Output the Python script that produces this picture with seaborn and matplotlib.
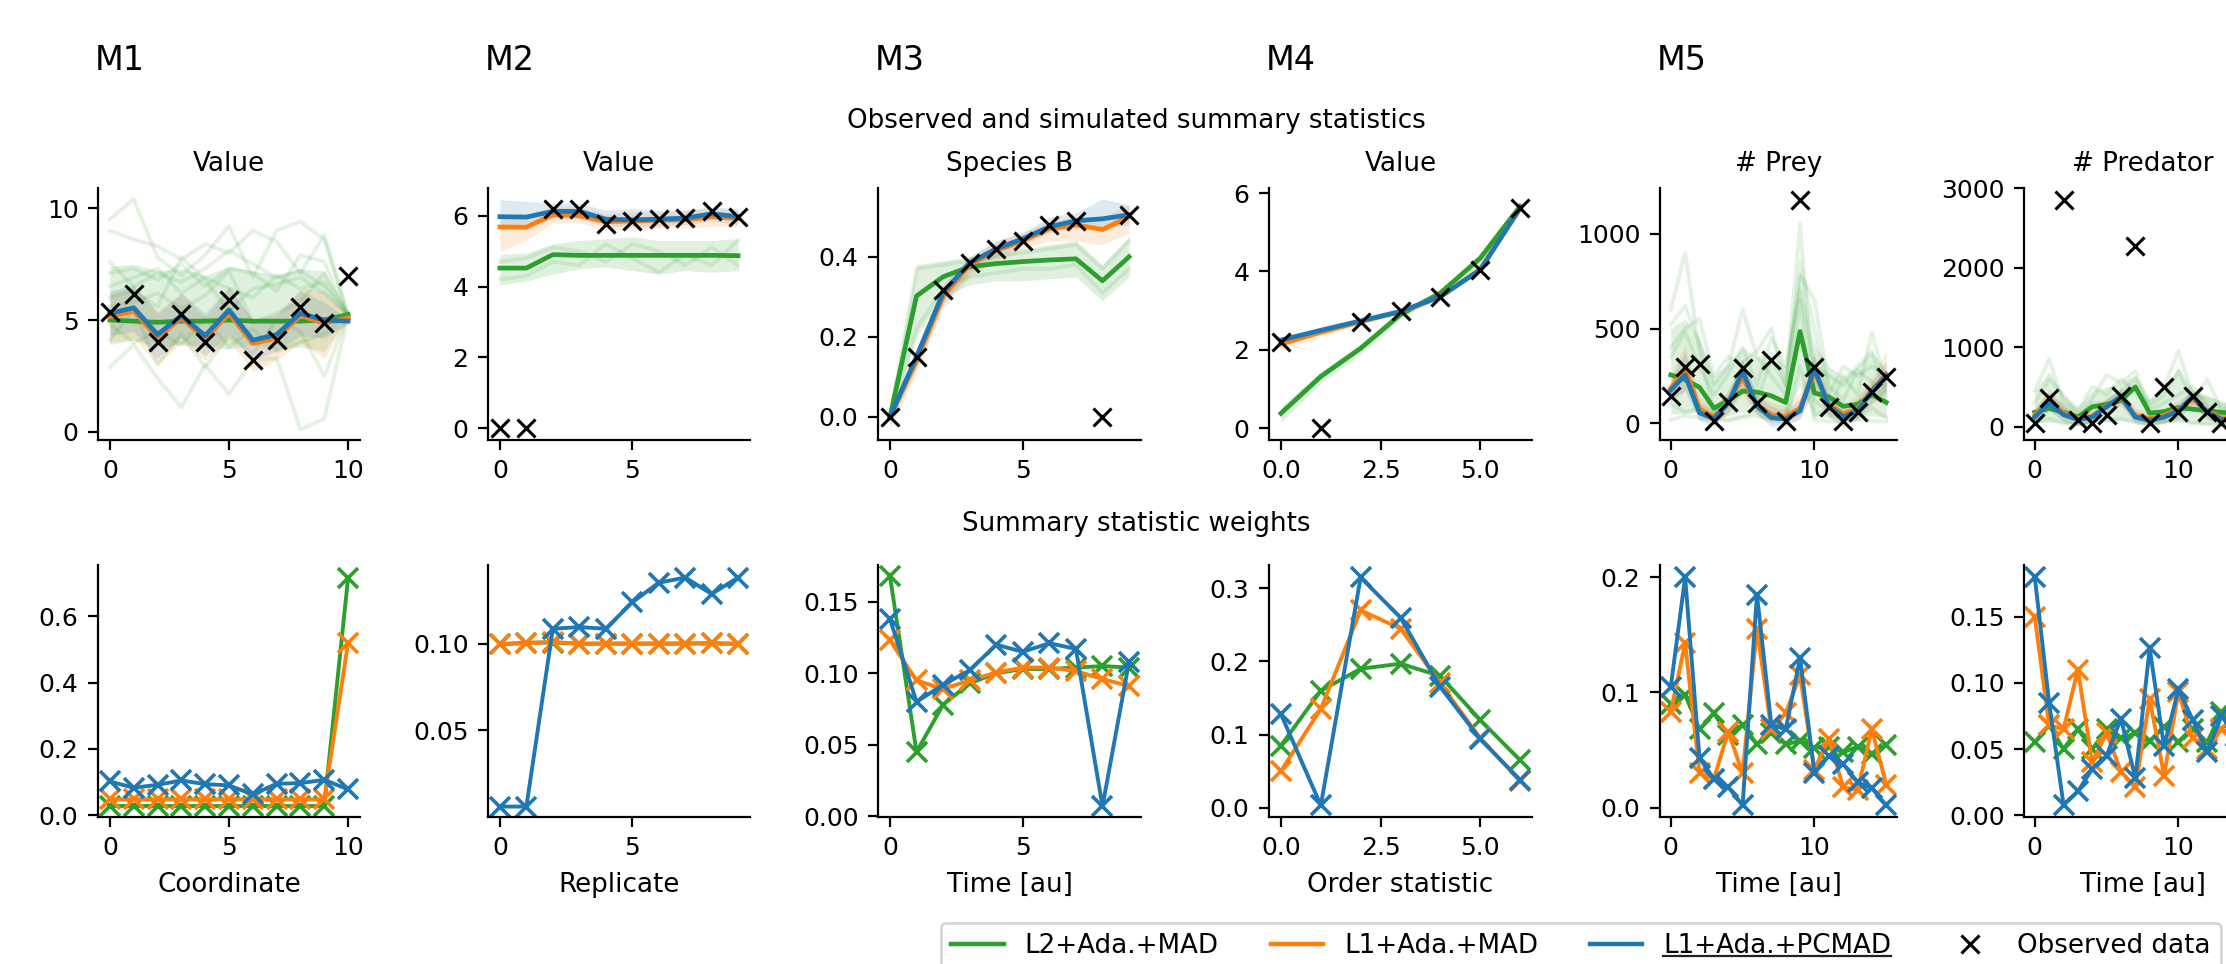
import numpy as np
import pandas as pd
import matplotlib
matplotlib.use("Agg")
import matplotlib.pyplot as plt
import seaborn as sns
from matplotlib.lines import Line2D

# ---------------- data ----------------
METHODS = ["L2+Ada.+MAD", "L1+Ada.+MAD", "L1+Ada.+PCMAD"]
COLORS = ["#2ca02c", "#ff7f0e", "#1f77b4"]
OBS_LABEL = "Observed data"
MODEL_LABELS = ["M1", "M2", "M3", "M4", "M5"]
TOP_TITLES = ["Value", "Value", "Species B", "Value", "# Prey", "# Predator"]
BOTTOM_XLABELS = ["Coordinate", "Replicate", "Time [au]", "Order statistic", "Time [au]", "Time [au]"]
TITLE_SIM = "Observed and simulated summary statistics"
TITLE_W = "Summary statistic weights"

# Panel 1 (M1)
obs_1 = [5.37, 6.15, 4.0, 5.27, 4.0, 5.9, 3.2, 4.1, 5.6, 4.88, 6.98]
l2_1 = [5.0, 4.95, 4.9, 4.95, 4.95, 5.0, 4.95, 4.95, 4.95, 5.0, 5.25]
l1_1 = [5.15, 5.4, 4.2, 5.1, 4.15, 5.3, 3.95, 4.2, 5.2, 4.85, 5.1]
pc_1 = [5.3, 5.55, 4.35, 5.2, 4.3, 5.45, 4.1, 4.35, 5.3, 5.0, 4.95]
l2_lo_1 = [3.9, 4.1, 3.8, 3.9, 3.8, 3.7, 3.9, 3.7, 3.8, 3.6, 5.1]
l2_hi_1 = [7.4, 7.5, 7.2, 7.3, 7.0, 7.4, 7.2, 7.0, 7.3, 7.2, 5.35]
l1_lo_1 = [4.0, 4.2, 3.0, 4.0, 3.2, 4.1, 2.7, 3.2, 4.0, 3.3, 5.0]
l1_hi_1 = [6.2, 6.5, 5.4, 6.2, 5.1, 6.5, 5.0, 5.3, 6.4, 6.3, 5.2]
pc_lo_1 = [4.3, 4.5, 3.3, 4.2, 3.4, 4.4, 3.2, 3.6, 4.3, 4.2, 4.85]
pc_hi_1 = [6.3, 6.6, 5.3, 6.2, 5.3, 6.5, 5.0, 5.2, 6.3, 5.8, 5.05]
l2_runs_1 = [
    [9.5, 10.4, 7.8, 7.0, 7.9, 9.2, 6.9, 9.0, 9.4, 8.6, 5.2],
    [9.0, 8.6, 8.3, 7.7, 8.4, 8.0, 9.0, 8.5, 7.1, 8.8, 5.2],
    [2.9, 3.9, 2.4, 1.1, 3.0, 1.7, 3.2, 3.3, 0.1, 0.6, 5.2],
    [7.1, 7.3, 6.8, 7.5, 6.5, 7.3, 7.1, 6.3, 7.9, 7.6, 5.2],
    [6.5, 6.9, 7.3, 6.2, 6.9, 6.4, 6.0, 7.0, 6.4, 6.7, 5.2],
    [4.1, 5.5, 3.0, 4.4, 2.9, 4.3, 3.5, 5.0, 4.5, 2.5, 5.2],
    [6.0, 6.3, 5.6, 7.8, 6.8, 5.4, 6.4, 6.6, 6.9, 6.2, 5.2],
    [5.6, 5.8, 6.2, 5.5, 6.1, 7.2, 4.9, 5.3, 5.8, 7.1, 5.2],
    [4.8, 4.0, 4.5, 3.9, 5.1, 3.8, 4.6, 3.6, 4.0, 4.4, 5.2],
    [7.6, 6.5, 7.1, 6.7, 7.3, 8.1, 7.5, 6.9, 7.2, 6.5, 5.2],
]
w_l2_1 = [0.028] * 10 + [0.715]
w_l1_1 = [0.048] * 10 + [0.52]
w_pc_1 = [0.102, 0.083, 0.092, 0.105, 0.094, 0.09, 0.063, 0.095, 0.097, 0.107, 0.078]

# Panel 2 (M2)
obs_2 = [0.0, 0.0, 6.2, 6.2, 5.77, 5.84, 5.9, 5.93, 6.12, 5.96]
l2_2 = [4.52, 4.52, 4.9, 4.88, 4.88, 4.88, 4.88, 4.88, 4.88, 4.87]
l1_2 = [5.68, 5.67, 6.03, 6.0, 5.83, 5.85, 5.87, 5.88, 5.97, 5.92]
pc_2 = [5.97, 5.96, 6.12, 6.12, 5.9, 5.88, 5.9, 5.93, 6.05, 5.97]
l2_lo_2 = [4.05, 4.15, 4.35, 4.5, 4.55, 4.45, 4.35, 4.45, 4.4, 4.45]
l2_hi_2 = [4.9, 4.95, 5.2, 5.3, 5.35, 5.4, 5.3, 5.3, 5.3, 5.35]
l1_lo_2 = [5.0, 5.3, 5.8, 5.8, 5.6, 5.6, 5.65, 5.65, 5.7, 5.7]
l1_hi_2 = [6.0, 6.0, 6.25, 6.25, 6.05, 6.1, 6.1, 6.15, 6.2, 6.15]
pc_lo_2 = [5.7, 5.7, 5.9, 5.9, 5.7, 5.7, 5.7, 5.75, 5.85, 5.75]
pc_hi_2 = [6.45, 6.4, 6.35, 6.35, 6.15, 6.2, 6.15, 6.15, 6.25, 6.2]
l2_runs_2 = [
    [4.2, 4.3, 4.7, 4.6, 5.2, 4.8, 4.4, 4.9, 4.6, 5.3],
    [4.7, 4.8, 5.1, 5.0, 4.7, 5.2, 5.0, 4.6, 5.1, 4.6],
]
w_l2_2 = [0.0995, 0.1005, 0.1005, 0.1, 0.1, 0.1, 0.1, 0.1, 0.1002, 0.0998]
w_l1_2 = [0.0998, 0.1003, 0.101, 0.0998, 0.0999, 0.0999, 0.0999, 0.1, 0.1001, 0.0999]
w_pc_2 = [0.0062, 0.0062, 0.1085, 0.1095, 0.1085, 0.1237, 0.135, 0.138, 0.1285, 0.138]

# Panel 3 (M3)
obs_3 = [0.0, 0.15, 0.316, 0.384, 0.419, 0.44, 0.48, 0.489, 0.0, 0.505]
l2_3 = [0.0, 0.302, 0.35, 0.375, 0.383, 0.388, 0.392, 0.395, 0.34, 0.40]
l1_3 = [0.0, 0.14, 0.30, 0.38, 0.415, 0.44, 0.47, 0.48, 0.468, 0.50]
pc_3 = [0.0, 0.15, 0.31, 0.385, 0.42, 0.445, 0.475, 0.49, 0.495, 0.505]
l2_lo_3 = [-0.01, 0.2, 0.3, 0.33, 0.34, 0.34, 0.345, 0.35, 0.29, 0.35]
l2_hi_3 = [0.02, 0.38, 0.39, 0.40, 0.41, 0.42, 0.43, 0.44, 0.38, 0.45]
l1_lo_3 = [-0.03, 0.11, 0.27, 0.35, 0.39, 0.42, 0.44, 0.44, 0.43, 0.46]
l1_hi_3 = [0.02, 0.17, 0.33, 0.40, 0.44, 0.46, 0.49, 0.50, 0.50, 0.53]
pc_lo_3 = [-0.02, 0.12, 0.28, 0.36, 0.40, 0.43, 0.46, 0.47, 0.47, 0.48]
pc_hi_3 = [0.02, 0.17, 0.33, 0.40, 0.44, 0.46, 0.50, 0.51, 0.545, 0.53]
l2_runs_3 = [
    [0.0, 0.37, 0.38, 0.39, 0.40, 0.41, 0.42, 0.43, 0.37, 0.44],
    [0.0, 0.22, 0.32, 0.35, 0.36, 0.37, 0.37, 0.38, 0.31, 0.37],
]
w_l2_3 = [0.168, 0.045, 0.078, 0.093, 0.1, 0.103, 0.103, 0.104, 0.105, 0.104]
w_l1_3 = [0.123, 0.095, 0.089, 0.095, 0.1005, 0.104, 0.104, 0.1015, 0.096, 0.091]
w_pc_3 = [0.138, 0.080, 0.092, 0.102, 0.120, 0.115, 0.121, 0.117, 0.007, 0.108]

# Panel 4 (M4)
obs_4 = [2.2, 0.0, 2.71, 2.98, 3.36, 4.04, 5.62]
l2_4 = [0.38, 1.32, 2.04, 2.9, 3.45, 4.34, 5.66]
l1_4 = [2.15, 2.45, 2.72, 2.97, 3.35, 4.06, 5.6]
pc_4 = [2.25, 2.5, 2.74, 2.98, 3.36, 4.04, 5.62]
l2_lo_4 = [0.15, 1.15, 1.9, 2.8, 3.35, 4.2, 5.5]
l2_hi_4 = [0.55, 1.45, 2.15, 3.0, 3.55, 4.45, 5.8]
l1_lo_4 = [2.0, 2.35, 2.65, 2.93, 3.32, 4.02, 5.55]
l1_hi_4 = [2.3, 2.55, 2.78, 3.02, 3.4, 4.1, 5.66]
pc_lo_4 = [2.2, 2.45, 2.7, 2.95, 3.33, 4.0, 5.58]
pc_hi_4 = [2.3, 2.55, 2.78, 3.01, 3.39, 4.08, 5.66]
l2_runs_4 = []
w_l2_4 = [0.085, 0.16, 0.19, 0.197, 0.18, 0.12, 0.065]
w_l1_4 = [0.05, 0.135, 0.27, 0.245, 0.17, 0.095, 0.037]
w_pc_4 = [0.128, 0.003, 0.315, 0.26, 0.165, 0.094, 0.038]

# Panel 5 (M5, prey)
obs_5 = [146, 296, 312, 14, 111, 294, 106, 335, 14, 1180, 296, 88, 14, 62, 167, 243]
l2_5 = [255, 230, 190, 80, 120, 170, 165, 145, 110, 484, 160, 140, 90, 100, 150, 110]
l1_5 = [185, 290, 75, 35, 110, 240, 100, 45, 35, 80, 270, 100, 50, 75, 175, 260]
pc_5 = [175, 255, 55, 25, 105, 275, 90, 30, 22, 65, 290, 90, 35, 65, 170, 250]
l2_lo_5 = [50, 50, 60, 20, 40, 60, 60, 40, 30, 200, 40, 30, 20, 30, 40, 30]
l2_hi_5 = [500, 550, 450, 250, 320, 400, 350, 380, 300, 800, 420, 300, 250, 300, 380, 280]
l1_lo_5 = [110, 180, 20, 0, 50, 150, 40, 0, 0, 30, 170, 40, 0, 30, 100, 160]
l1_hi_5 = [250, 420, 140, 90, 170, 330, 160, 110, 90, 160, 380, 160, 100, 150, 240, 380]
pc_lo_5 = [120, 170, 10, -10, 60, 180, 50, -20, -10, 20, 200, 30, -20, 20, 110, 170]
pc_hi_5 = [230, 380, 110, 70, 150, 340, 150, 90, 70, 130, 360, 140, 80, 130, 220, 330]
l2_runs_5 = [
    [600, 900, 380, 60, 150, 300, 120, 340, 200, 1050, 120, 60, 250, 150, 480, 200],
    [400, 500, 550, 250, 350, 320, 380, 500, 200, 780, 650, 200, 120, 280, 220, 120],
    [100, 60, 80, 30, 20, 40, 60, 20, 40, 650, 40, 80, 30, 20, 80, 30],
    [350, 480, 300, 150, 260, 400, 200, 450, 300, 700, 300, 250, 200, 300, 380, 150],
    [20, 40, 30, 20, 10, 30, 40, 20, 10, 300, 20, 10, 10, 20, 10, 10],
    [520, 620, 420, 200, 300, 600, 350, 250, 150, 850, 500, 150, 300, 250, 300, 250],
]
w_l2_5 = [0.09, 0.098, 0.068, 0.082, 0.063, 0.072, 0.055, 0.065, 0.055, 0.058, 0.052, 0.053, 0.048, 0.053, 0.047, 0.054]
w_l1_5 = [0.083, 0.143, 0.03, 0.025, 0.066, 0.03, 0.155, 0.068, 0.082, 0.115, 0.033, 0.06, 0.018, 0.015, 0.068, 0.02]
w_pc_5 = [0.105, 0.2, 0.043, 0.025, 0.018, 0.002, 0.185, 0.072, 0.068, 0.13, 0.03, 0.045, 0.038, 0.022, 0.017, 0.002]

# Panel 6 (M5, predator)
obs_6 = [50, 357, 2857, 84, 42, 147, 391, 2269, 42, 504, 189, 391, 189, 50, 100, 150]
l2_6 = [180, 230, 180, 120, 250, 280, 330, 500, 170, 190, 240, 220, 200, 180, 170, 160]
l1_6 = [140, 350, 170, 100, 130, 260, 360, 140, 100, 140, 220, 350, 200, 110, 120, 160]
pc_6 = [120, 300, 150, 90, 120, 250, 380, 120, 80, 120, 200, 380, 180, 90, 100, 150]
l2_lo_6 = [40, 60, 40, 20, 50, 60, 80, 60, 30, 50, 60, 40, 30, 20, 30, 30]
l2_hi_6 = [450, 700, 400, 250, 450, 500, 550, 650, 350, 450, 750, 450, 400, 300, 300, 250]
l1_lo_6 = [50, 230, 70, 30, 50, 160, 260, 50, 20, 50, 120, 250, 100, 30, 40, 70]
l1_hi_6 = [230, 480, 280, 180, 220, 370, 460, 230, 180, 230, 330, 460, 300, 190, 200, 250]
pc_lo_6 = [40, 200, 60, 20, 40, 150, 280, 40, 10, 40, 100, 280, 90, 20, 30, 60]
pc_hi_6 = [200, 420, 250, 160, 200, 350, 480, 200, 150, 200, 300, 480, 280, 160, 170, 240]
l2_runs_6 = [
    [450, 850, 300, 200, 500, 400, 600, 450, 300, 500, 950, 400, 350, 300, 250, 200],
    [300, 600, 400, 150, 350, 650, 550, 700, 250, 400, 700, 300, 600, 200, 300, 250],
    [50, 100, 40, 20, 60, 80, 100, 50, 30, 60, 100, 40, 30, 20, 40, 30],
    [200, 400, 250, 100, 300, 300, 450, 600, 200, 300, 400, 500, 300, 250, 200, 150],
]
w_l2_6 = [0.055, 0.068, 0.05, 0.065, 0.05, 0.065, 0.058, 0.062, 0.056, 0.067, 0.055, 0.065, 0.055, 0.078, 0.06, 0.06]
w_l1_6 = [0.15, 0.068, 0.065, 0.11, 0.04, 0.062, 0.033, 0.021, 0.088, 0.03, 0.093, 0.058, 0.05, 0.065, 0.06, 0.05]
w_pc_6 = [0.18, 0.085, 0.008, 0.018, 0.035, 0.045, 0.073, 0.028, 0.126, 0.052, 0.095, 0.072, 0.048, 0.075, 0.06, 0.05]

# ticks
TOP_XTICKS = [[0, 5, 10], [0, 5], [0, 5], [0, 2.5, 5.0], [0, 10], [0, 10]]
TOP_YTICKS = [[0, 5, 10], [0, 2, 4, 6], [0, 0.2, 0.4], [0, 2, 4, 6], [0, 500, 1000], [0, 1000, 2000, 3000]]
BOT_XTICKS = TOP_XTICKS
BOT_YTICKS = [[0, 0.2, 0.4, 0.6], [0.05, 0.10], [0, 0.05, 0.10, 0.15], [0, 0.1, 0.2, 0.3], [0, 0.1, 0.2], [0, 0.05, 0.10, 0.15]]

OBS = [obs_1, obs_2, obs_3, obs_4, obs_5, obs_6]
MEANS = [[l2_1, l1_1, pc_1], [l2_2, l1_2, pc_2], [l2_3, l1_3, pc_3],
         [l2_4, l1_4, pc_4], [l2_5, l1_5, pc_5], [l2_6, l1_6, pc_6]]
LOS = [[l2_lo_1, l1_lo_1, pc_lo_1], [l2_lo_2, l1_lo_2, pc_lo_2], [l2_lo_3, l1_lo_3, pc_lo_3],
       [l2_lo_4, l1_lo_4, pc_lo_4], [l2_lo_5, l1_lo_5, pc_lo_5], [l2_lo_6, l1_lo_6, pc_lo_6]]
HIS = [[l2_hi_1, l1_hi_1, pc_hi_1], [l2_hi_2, l1_hi_2, pc_hi_2], [l2_hi_3, l1_hi_3, pc_hi_3],
       [l2_hi_4, l1_hi_4, pc_hi_4], [l2_hi_5, l1_hi_5, pc_hi_5], [l2_hi_6, l1_hi_6, pc_hi_6]]
RUNS = [l2_runs_1, l2_runs_2, l2_runs_3, l2_runs_4, l2_runs_5, l2_runs_6]
WEIGHTS = [[w_l2_1, w_l1_1, w_pc_1], [w_l2_2, w_l1_2, w_pc_2], [w_l2_3, w_l1_3, w_pc_3],
           [w_l2_4, w_l1_4, w_pc_4], [w_l2_5, w_l1_5, w_pc_5], [w_l2_6, w_l1_6, w_pc_6]]

# ---------------- layout (pixels) ----------------
W, H = 2226, 964
DPI = 200
COL_LEFT = [98, 488, 878, 1269, 1660, 2024]
COL_WIDTH = [262, 262, 263, 263, 237, 237]
TOP_Y, BOT_Y, AX_H = 188, 565, 252
TOP_YLIM = [(-0.36, 10.9), (-0.33, 6.78), (-0.058, 0.572), (-0.3, 6.13), (-88, 1241), (-168, 3004)]
BOT_YLIM = [(-0.005, 0.754), (0.0002, 0.1452), (-0.0005, 0.1757), (-0.0128, 0.332), (-0.0081, 0.2107), (-0.0013, 0.189)]

FS_TICK = 9.0
FS_TEXT = 9.4

plt.rcParams.update({
    "font.family": ["DejaVu Sans"],
    "xtick.labelsize": FS_TICK,
    "ytick.labelsize": FS_TICK,
    "axes.linewidth": 0.8,
})

fig = plt.figure(figsize=(W / DPI, H / DPI), dpi=DPI)


def px_axes(left, top, width, height):
    return fig.add_axes([left / W, 1 - (top + height) / H, width / W, height / H])


def long_df(series):
    rows = []
    for m, s in zip(METHODS, series):
        for i, v in enumerate(s):
            rows.append((m, i, v))
    return pd.DataFrame(rows, columns=["method", "x", "y"])


def style(ax, xticks, yticks, xlim, ylim):
    ax.spines[["top", "right"]].set_visible(False)
    ax.set_xticks(xticks)
    ax.set_yticks(yticks)
    ax.set_xlim(*xlim)
    ax.set_ylim(*ylim)
    ax.set_xlabel("")
    ax.set_ylabel("")


for i in range(6):
    n = len(OBS[i])
    x = np.arange(n)
    xlim = (-0.05 * (n - 1), (n - 1) * 1.05)

    # ---- top row ----
    ax = px_axes(COL_LEFT[i], TOP_Y, COL_WIDTH[i], AX_H)
    for c, lo, hi in zip(COLORS, LOS[i], HIS[i]):
        ax.fill_between(x, lo, hi, color=c, alpha=0.15, linewidth=0, zorder=1)
    if RUNS[i]:
        rows = [(r, j, v) for r, run in enumerate(RUNS[i]) for j, v in enumerate(run)]
        dfr = pd.DataFrame(rows, columns=["run", "x", "y"])
        sns.lineplot(data=dfr, x="x", y="y", units="run", estimator=None,
                     color=COLORS[0], alpha=0.13, lw=1.4, ax=ax, zorder=1.5)
    sns.lineplot(data=long_df(MEANS[i]), x="x", y="y", hue="method",
                 hue_order=METHODS, palette=COLORS, lw=1.7, ax=ax,
                 legend=False, zorder=3)
    sns.scatterplot(x=x, y=OBS[i], marker="x", color="k", s=42,
                    linewidth=1.1, ax=ax, zorder=5)
    style(ax, TOP_XTICKS[i], TOP_YTICKS[i], xlim, TOP_YLIM[i])
    ax.set_title(TOP_TITLES[i], fontsize=FS_TEXT)

    # ---- bottom row ----
    ax2 = px_axes(COL_LEFT[i], BOT_Y, COL_WIDTH[i], AX_H)
    sns.lineplot(data=long_df(WEIGHTS[i]), x="x", y="y", hue="method",
                 hue_order=METHODS, palette=COLORS, lw=1.4, marker="x",
                 markersize=7, ax=ax2, legend=False)
    for ln in ax2.lines:
        ln.set_markeredgecolor(ln.get_color())
        ln.set_markeredgewidth(1.3)
        ln.set_linestyle("-")
    style(ax2, BOT_XTICKS[i], BOT_YTICKS[i], xlim, BOT_YLIM[i])
    ax2.set_xlabel(BOTTOM_XLABELS[i], fontsize=FS_TEXT)

# model labels
for i, lab in enumerate(MODEL_LABELS):
    fig.text((COL_LEFT[i] - 3) / W, 1 - 60 / H, lab, fontsize=12, ha="left", va="center")

fig.text(1136 / W, 1 - 121 / H, TITLE_SIM, fontsize=FS_TEXT, ha="center", va="center")
fig.text(1136 / W, 1 - 524 / H, TITLE_W, fontsize=FS_TEXT, ha="center", va="center")

handles = [Line2D([], [], color=c, lw=1.6) for c in COLORS]
handles.append(Line2D([], [], color="k", marker="x", ls="none", ms=6.5, mew=1.1))
labels = METHODS + [OBS_LABEL]
leg = fig.legend(handles, labels, loc="upper left", bbox_to_anchor=(941 / W, 1 - 923 / H),
                 ncol=4, fontsize=FS_TEXT, borderaxespad=0.0, frameon=True)

# underline the proposed method's label
fig.canvas.draw()
renderer = fig.canvas.get_renderer()
t = leg.get_texts()[2]
bb = t.get_window_extent(renderer)
yline = bb.y0 + 3.0
fig.add_artist(Line2D([bb.x0 / W, bb.x1 / W], [yline / H, yline / H],
                      transform=fig.transFigure, color="#222222", lw=0.8, zorder=10))

fig.savefig("out.png", dpi=DPI)
